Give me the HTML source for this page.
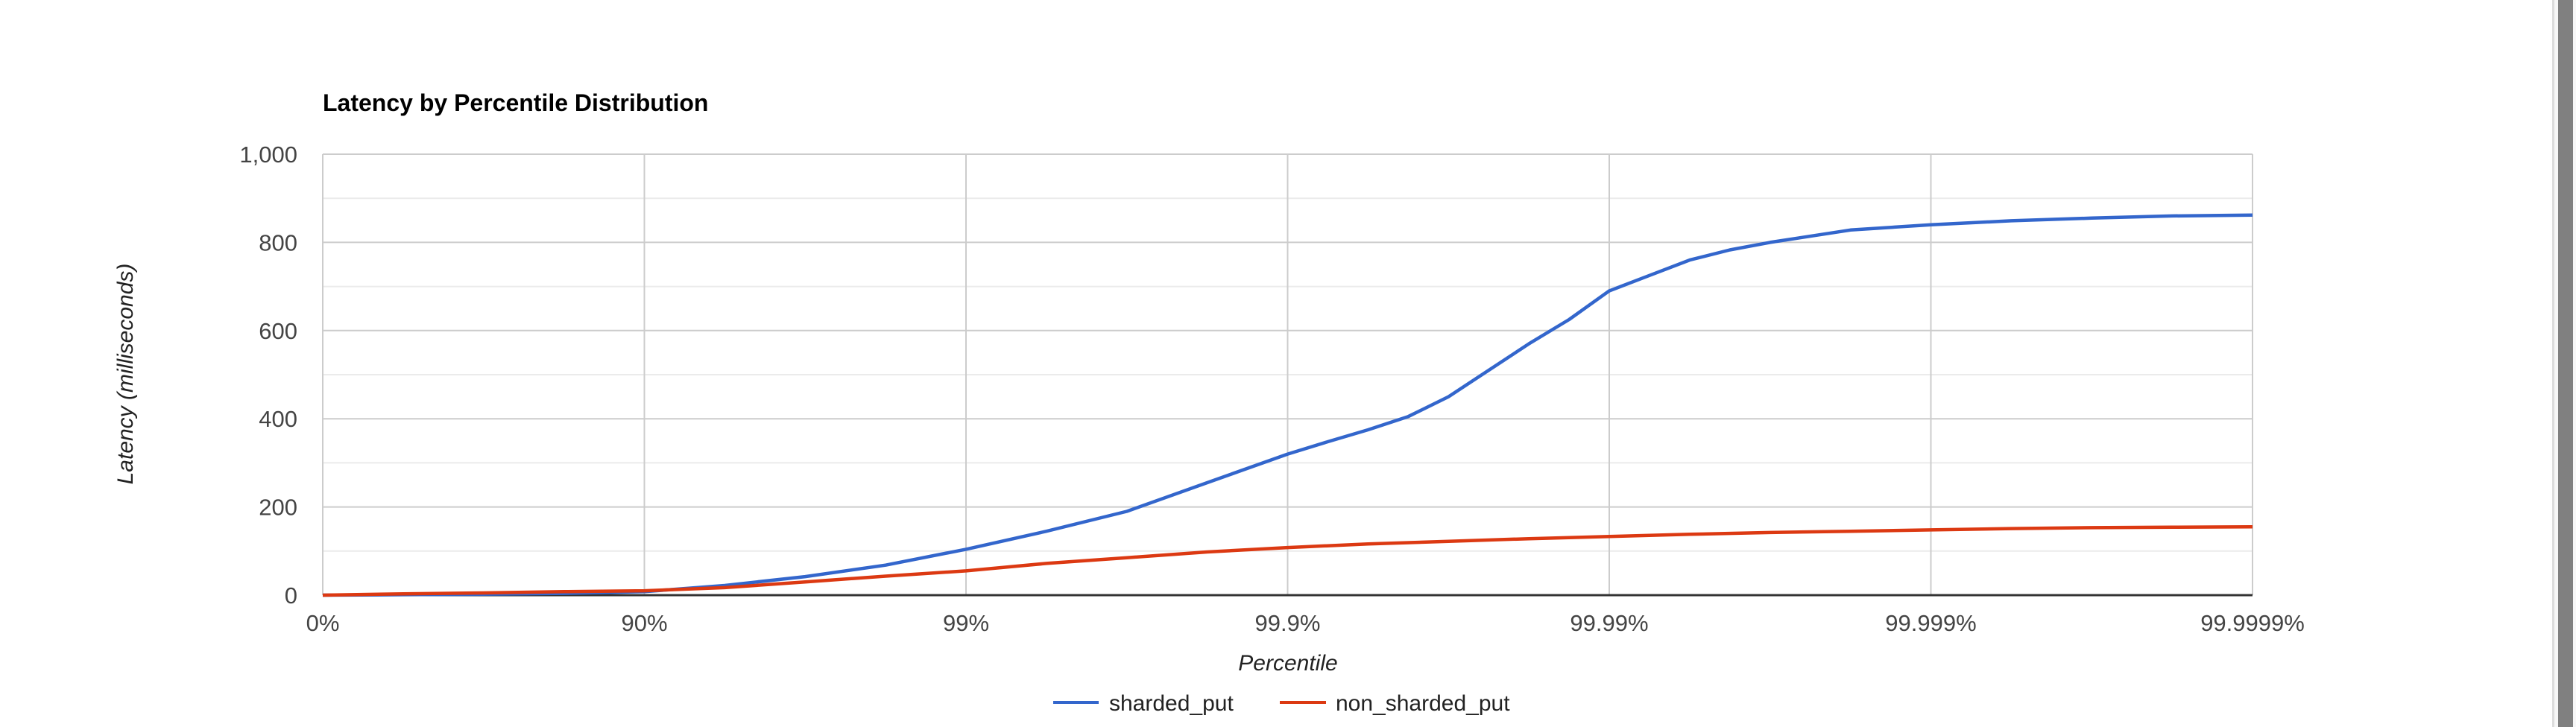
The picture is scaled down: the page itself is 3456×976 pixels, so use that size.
<!DOCTYPE html>
<html><head><meta charset="utf-8"><style>
html,body{margin:0;padding:0;background:#fff;width:3456px;height:976px;overflow:hidden}
svg{display:block;font-family:"Liberation Sans",Arial,sans-serif}
</style></head><body>
<svg id="chart" width="3456" height="976" viewBox="0 0 3456 976">
<rect x="3424" y="0" width="3" height="976" fill="#dcdcdc"/>
<rect x="3427" y="0" width="29" height="976" fill="#f7f7f7"/>
<rect x="3432" y="0" width="20" height="976" fill="#808080"/>
<text x="433" y="149" font-size="32" font-weight="bold" fill="#000">Latency by Percentile Distribution</text>
<g id="grid"></g>
<g id="series"></g>
<g id="labels"></g>
<text transform="translate(178,502) rotate(-90)" text-anchor="middle" font-size="30" font-style="italic" fill="#222">Latency (milliseconds)</text>
<text x="1728" y="900" text-anchor="middle" font-size="30" font-style="italic" fill="#222">Percentile</text>
<g>
<g>
<line x1="1413" y1="943" x2="1474" y2="943" stroke="#3366cc" stroke-width="4"/>
<text x="1488" y="954" font-size="30" fill="#222">sharded_put</text></g>
<g>
<line x1="1717" y1="943" x2="1779" y2="943" stroke="#dc3912" stroke-width="4"/>
<text x="1792" y="954" font-size="30" fill="#222">non_sharded_put</text></g>
</g>
</svg>
<script>
const xTicks = ["0%","90%","99%","99.9%","99.99%","99.999%","99.9999%"];
const yTicks = [0,200,400,600,800,1000];
const ninesA = [0,0.25,0.5,0.75,1,1.25,1.5,1.75,2,2.25,2.5,2.75,3,3.125,3.25,3.375,3.5,3.625,3.75,3.875,4,4.125,4.25,4.375,4.5,4.75,5,5.25,5.5,5.75,6];
const sharded = [0,1,2,4,8,22,42,68,104,145,190,255,320,348,375,405,450,510,570,625,690,725,760,783,800,828,840,849,855,860,862];
const ninesB = [0,0.25,0.5,0.75,1,1.25,1.5,1.75,2,2.25,2.5,2.75,3,3.25,3.5,3.75,4,4.25,4.5,4.75,5,5.25,5.5,5.75,6];
const nonSharded = [0,3,5,8,10,17,30,43,55,72,85,98,108,116,122,128,133,138,142,145,148,151,153,154,155];

const L=433,R=3022,T=207,B=799,NS="http://www.w3.org/2000/svg";
const xs=v=>L+(R-L)*v/6, ys=v=>B-(B-T)*v/1000;
const grid=document.getElementById('grid'),ser=document.getElementById('series'),lab=document.getElementById('labels');
function mk(tag,attrs,parent){const e=document.createElementNS(NS,tag);for(const k in attrs)e.setAttribute(k,attrs[k]);parent.appendChild(e);return e;}
for(let v=100;v<=1000;v+=200){const g=mk('line',{x1:L,x2:R,y1:ys(v),y2:ys(v),stroke:'#ebebeb','stroke-width':2},grid);

}
yTicks.forEach(v=>{if(v>0){const g=mk('line',{x1:L,x2:R,y1:ys(v),y2:ys(v),stroke:'#cccccc','stroke-width':2},grid);

}
const t=mk('text',{x:399,y:ys(v)+11,'text-anchor':'end','font-size':31,fill:'#444'},lab);t.textContent=v.toLocaleString('en-US');

});
xTicks.forEach((s,i)=>{const g=mk('line',{x1:xs(i),x2:xs(i),y1:T,y2:B,stroke:'#cccccc','stroke-width':2},grid);


const t=mk('text',{x:xs(i),y:847,'text-anchor':'middle','font-size':31,fill:'#444'},lab);t.textContent=s;

});
const base=mk('line',{x1:L,x2:R,y1:B,y2:B,stroke:'#333','stroke-width':3},grid);


function path(xv,vals,color,name){const d=vals.map((v,i)=>(i?'L':'M')+xs(xv[i]).toFixed(1)+','+ys(v).toFixed(1)).join(' ');
const p=mk('path',{d:d,fill:'none',stroke:color,'stroke-width':4.5,'stroke-linejoin':'round'},ser);

}
path(ninesA,sharded,'#3366cc','sharded-put-line');
path(ninesB,nonSharded,'#dc3912','non-sharded-put-line');
</script>
</body></html>
